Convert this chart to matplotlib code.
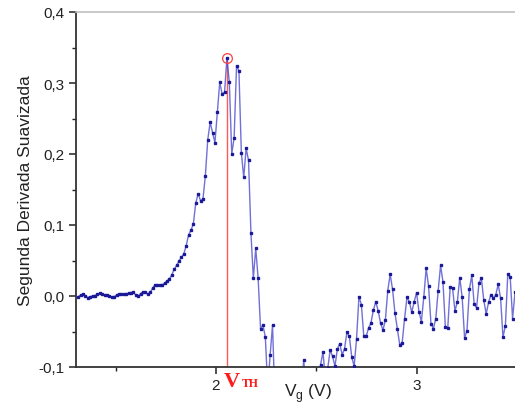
import numpy as np
import matplotlib
matplotlib.use('Agg')
import matplotlib.pyplot as plt
from matplotlib.ticker import MultipleLocator, FuncFormatter

# sweep grid (V) and smoothed second derivative
V_START = 1.313
V_STEP = 0.01196
d2_smooth = [
    -0.001, 0.0014, 0.0024, 0.0005, -0.0023, -0.001, 0.0, 0.0005, 0.0024, 0.0038,
    0.0024, 0.0014, 0.0014, 0.0, -0.0018, -0.001, 0.0014, 0.0028, 0.0024, 0.0028,
    0.0033, 0.0038, 0.0047, 0.0052, 0.0014, -0.0004, 0.0033, 0.006, 0.005, 0.0028,
    0.005, 0.011, 0.0155, 0.0155, 0.015, 0.0155, 0.018,
    0.021, 0.024, 0.0295, 0.0376, 0.043, 0.049, 0.0545, 0.059, 0.0705, 0.0858,
    0.0925, 0.1015, 0.1306, 0.1442, 0.1343, 0.1362, 0.169, 0.2197, 0.2446, 0.230,
    0.216, 0.259, 0.301, 0.2845, 0.2868, 0.335,
    0.301, 0.200, 0.223, 0.324, 0.317, 0.202, 0.167, 0.208, 0.191, 0.089,
    0.025, 0.067, 0.025, -0.046, -0.041, -0.058, -0.13, -0.083, -0.041, -0.15,
    -0.19, -0.23, -0.21, -0.26, -0.28, -0.24, -0.22, -0.19, -0.17, -0.15, -0.13,
    -0.090,
    -0.14, -0.17, -0.19, -0.16, -0.14, -0.115,
    -0.097, -0.079, -0.115, -0.102,
    -0.076, -0.085, -0.099, -0.075, -0.067, -0.083, -0.074, -0.051, -0.057, -0.086,
    -0.099, -0.060, -0.001, -0.012, -0.056, -0.057, -0.045,
    -0.038, -0.020, -0.008, -0.021, -0.038, -0.048, -0.034, 0.0076, 0.0306, 0.0094,
    -0.024, -0.046, -0.069, -0.066, -0.032, -0.002, -0.008, -0.023, -0.008, 0.0047,
    -0.022, -0.036, -0.002, 0.039, 0.014, -0.039, -0.046, -0.032,
    0.0076, 0.043, 0.020, -0.044, -0.045, 0.0127, 0.011, -0.021, -0.008, 0.026,
    -0.002, -0.059, -0.049, 0.0094, 0.029, -0.011, -0.017, 0.0183, 0.025, -0.006,
    -0.025, -0.009, 0.002, -0.003, 0.0016, 0.0166, -0.003, -0.058, -0.042, 0.031,
    0.027, -0.032, 0.005, 0.01,
]
VTH = 2.0545
PEAK_IDX = 62

vg = V_START + V_STEP * np.arange(len(d2_smooth))
d2 = np.array(d2_smooth)

plt.rcParams['font.family'] = ['Liberation Sans', 'DejaVu Sans']

fig = plt.figure(figsize=(5.15, 4.10), dpi=100)
ax = fig.add_axes([76 / 515, 42 / 410, 439 / 515, 355 / 410])

ax.plot(vg, d2, color='#4040cc', lw=1.0, alpha=0.75, zorder=2)
ax.plot(vg, d2, ls='none', marker='s', ms=2.0, color='#1a1a99', zorder=3)

# threshold marker
ax.plot([VTH, VTH], [-0.1, d2[PEAK_IDX]], color='#ff5a5a', lw=1.0, zorder=1)
ax.plot(vg[PEAK_IDX], d2[PEAK_IDX], marker='o', ms=7, mfc='none', mec='#ff4040',
        mew=0.9, zorder=4)

ax.set_xlim(1.3025, 3.4898)
ax.set_ylim(-0.1, 0.4)

ax.xaxis.set_major_locator(MultipleLocator(1))
ax.xaxis.set_minor_locator(MultipleLocator(0.5))
ax.yaxis.set_major_locator(MultipleLocator(0.1))
ax.yaxis.set_minor_locator(MultipleLocator(0.05))
ax.xaxis.set_major_formatter(FuncFormatter(lambda v, p: f'{v:.0f}'))
ax.yaxis.set_major_formatter(FuncFormatter(lambda v, p: f'{v:.1f}'.replace('.', ',')))

ax.tick_params(which='major', direction='out', length=5, width=1.1,
               labelsize=11, colors='#222222', pad=3)
ax.tick_params(which='minor', direction='out', length=3, width=1.0, colors='#222222')

for side in ['left', 'bottom']:
    ax.spines[side].set_color('#333333')
    ax.spines[side].set_linewidth(1.3)
ax.spines['top'].set_color('#c0c0c0')
ax.spines['top'].set_linewidth(1.2)
ax.spines['right'].set_visible(False)

ax.set_ylabel('Segunda Derivada Suavizada', fontsize=12.5, color='#222222')
ax.yaxis.set_label_coords(-0.098, 0.5)
ax.set_xlabel(r'V$_\mathregular{g}$ (V)', fontsize=12.5, color='#222222', va='top')
ax.xaxis.set_label_coords(0.528, -0.04)

fig.text(224 / 515, 23 / 410, 'V', color='#ff1a1a', fontsize=16,
         fontweight='bold', family='Liberation Serif', va='baseline')
fig.text(241.5 / 515, 23 / 410, 'TH', color='#ff1a1a', fontsize=8.5,
         fontweight='bold', family='Liberation Serif', va='baseline')

fig.savefig('out.png', dpi=100)
